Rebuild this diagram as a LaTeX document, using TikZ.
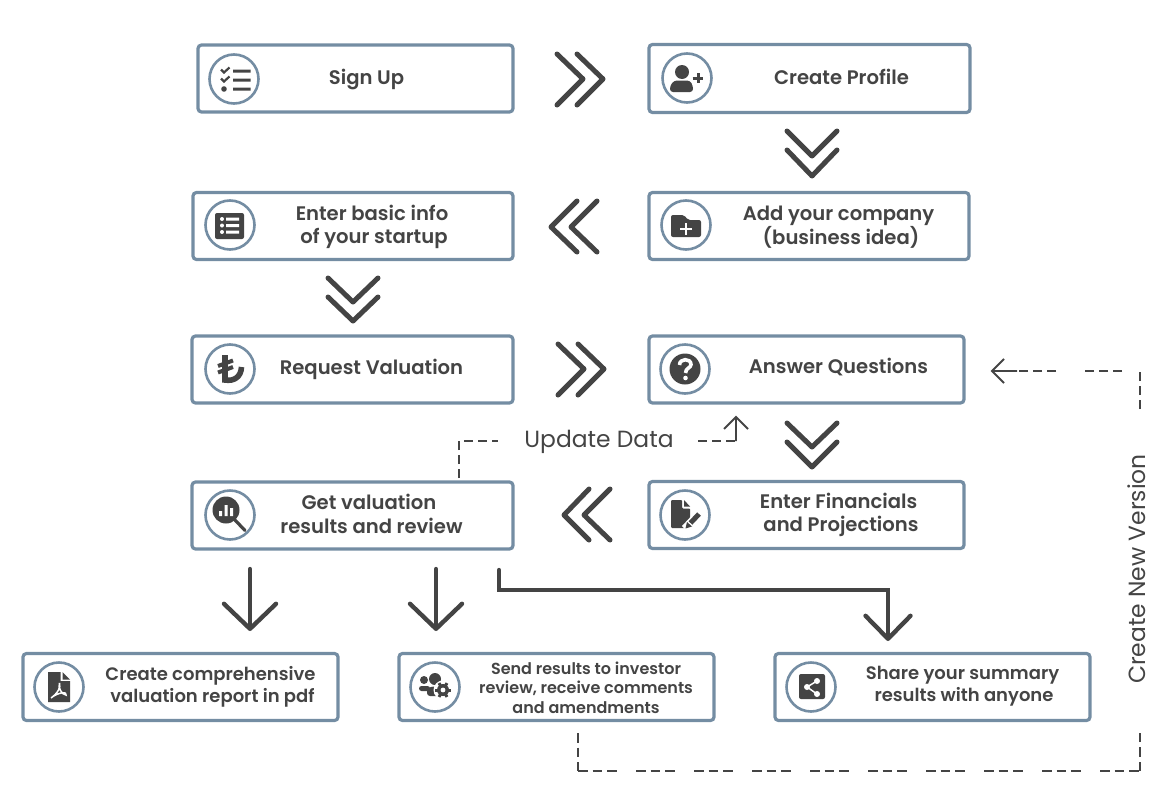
\documentclass[tikz,border=0pt]{standalone}
\usepackage{fontspec}
\setmainfont{Poppins}[UprightFont=* SemiBold]
\newfontfamily\regfont{Poppins}
\usetikzlibrary{arrows.meta}
\definecolor{boxline}{HTML}{748DA3}
\definecolor{ink}{HTML}{444444}
\tikzset{
  x=1pt,y=-1pt,
  stepbox/.style={draw=boxline,line width=3.2pt,rounded corners=3.5pt,fill=white,inner sep=0pt},
  ring/.style={draw=boxline,line width=2.6pt,fill=white,circle,minimum size=49pt,inner sep=0pt},
  label/.style={text=ink,align=center,inner sep=0pt,font=\fontsize{19.6}{23.5}\selectfont},
  lowlabel/.style={text=ink,align=center,inner sep=0pt,font=\fontsize{18}{22}\selectfont},
  smalllabel/.style={text=ink,align=center,inner sep=0pt,font=\fontsize{16}{19.5}\selectfont},
  thinlabel/.style={text=ink,inner sep=0pt,font=\regfont\fontsize{23.4}{28}\selectfont},
  chevron/.style={draw=ink,line width=5pt,line cap=round,line join=round},
  bigarrow/.style={draw=ink,line width=4.4pt,line cap=round,line join=miter,-{Straight Barb[length=25pt,width=52pt,round]}},
  bigarrowb/.style={draw=ink,line width=4.4pt,line cap=round,line join=miter,-{Straight Barb[length=23pt,width=45pt,round]}},
  dashline/.style={draw=ink,line width=1.8pt,dash pattern=on 9pt off 5pt},
  dashgroup/.style={draw=ink,line width=1.8pt,dash pattern=on 9.5pt off 5pt on 9.5pt off 5pt on 9.5pt off 19.5pt},
  thinhead/.style={draw=ink,line width=1.8pt,line join=miter},
}
\begin{document}
\begin{tikzpicture}
\useasboundingbox (0,0) rectangle (1166,811);
% boxes
\node[stepbox,minimum width=315pt,minimum height=67pt] (signup) at (355.5,78.5) {};
\node[stepbox,minimum width=321pt,minimum height=68pt] (profile) at (809.5,78.5) {};
\node[stepbox,minimum width=320pt,minimum height=67pt] (basic) at (353,226) {};
\node[stepbox,minimum width=320pt,minimum height=67pt] (company) at (809,226) {};
\node[stepbox,minimum width=321pt,minimum height=67pt] (request) at (352.5,369.5) {};
\node[stepbox,minimum width=315pt,minimum height=67pt] (answer) at (806.5,369.5) {};
\node[stepbox,minimum width=321pt,minimum height=67pt] (results) at (352.5,515.5) {};
\node[stepbox,minimum width=315pt,minimum height=67pt] (financials) at (806.5,515) {};
\node[stepbox,minimum width=315pt,minimum height=67pt] (pdf) at (180.5,687) {};
\node[stepbox,minimum width=315pt,minimum height=67pt] (send) at (556.5,687) {};
\node[stepbox,minimum width=315pt,minimum height=67pt] (share) at (932.5,687) {};
% rings
\node[ring] (r1) at (234,79) {};
\node[ring] (r2) at (687,78) {};
\node[ring] (r3) at (230,225) {};
\node[ring] (r4) at (686,225) {};
\node[ring] (r5) at (230,369) {};
\node[ring] (r6) at (685,369) {};
\node[ring] (r7) at (230,515) {};
\node[ring] (r8) at (685,515) {};
\node[ring] (r9) at (59,687) {};
\node[ring] (r10) at (435,687) {};
\node[ring] (r11) at (811,687) {};
% labels
\node[label] (t1) at (366.5,79) {Sign Up};
\node[label] (t2) at (841.5,77) {Create Profile};
\node[label] (t3) at (372,227) {Enter basic info\\\kern4pt of your startup};
\node[label] (t4) at (838.5,227) {Add your company\\\kern5pt(business idea)};
\node[label] (t5) at (371.5,369) {Request Valuation};
\node[label] (t6) at (838.5,367.5) {Answer Questions};
\node[label] (t7) at (371.5,514) {Get valuation\kern5pt\\results and review};
\node[label] (t8) at (841,515) {Enter Financials\kern5pt\\and Projections};
\node[lowlabel] (t9) at (210.5,686.5) {Create comprehensive\\\kern4pt valuation report in pdf};
\node[smalllabel] (t10) at (586,687.5) {Send results to investor\\review, receive comments\\and amendments};
\node[lowlabel] (t11) at (962.5,686.5) {Share your summary\\\kern3pt results with anyone};
\node[thinlabel] (t12) at (599,442) {Update Data};
\node[thinlabel,rotate=90] (t13) at (1137,569) {Create New Version};
% chevrons
\draw[chevron] (557,54)--(583,79)--(557,105) (577,54)--(603,79)--(577,105);
\draw[chevron] (787,131)--(812,156)--(837,131) (787,150)--(812,176)--(837,150);
\draw[chevron] (577,201)--(551,227)--(577,252) (597,201)--(571,227)--(597,252);
\draw[chevron] (328,278)--(353,302)--(378,278) (328,297)--(353,321)--(378,297);
\draw[chevron] (558,344)--(584,369)--(558,395) (578,344)--(604,369)--(578,395);
\draw[chevron] (787,423)--(812,447)--(837,423) (787,442)--(812,467)--(837,442);
\draw[chevron] (589,489)--(564,515)--(589,540) (610,489)--(584,515)--(610,540);
% big arrows
\coordinate (a1s) at (250,569);\coordinate (a1e) at (250,631);
\coordinate (a2s) at (436,569);\coordinate (a2e) at (436,631);
\coordinate (a3s) at (499,570);\coordinate (a3c) at (888,590);\coordinate (a3e) at (888,641);
\draw[bigarrow] (a1s)--(a1e);
\draw[bigarrow] (a2s)--(a2e);
\draw[bigarrowb] (a3s)|-(a3c)--(a3e);
% update data
\coordinate (u1) at (459,478);\coordinate (u2) at (459,441);\coordinate (u3) at (498,441);
\draw[dashline] (u1)--(u2)--(u3);
\coordinate (u4) at (698,441);\coordinate (u5) at (736,441);\coordinate (u6) at (736,417);
\draw[dashline] (u4)--(u5);
\draw[thinhead] (u5)--(u6) (724,429)--(u6)--(748,429);
% new version
\coordinate (n1) at (1140,409);\coordinate (n2) at (1140,371);\coordinate (n3) at (1122,371);\coordinate (n4) at (1083,371);
\coordinate (n5) at (1056,371);\coordinate (n6) at (1017,371);\coordinate (n7) at (992,371);
\draw[dashline] (n1)--(n2);
\draw[dashline] (n3)--(n4);
\draw[dashline] (n5)--(n6);
\draw[thinhead] (n6)--(n7) (1004,359)--(n7)--(1004,383);
\coordinate (b1) at (578,733);\coordinate (b2) at (578,771);\coordinate (b3) at (1140,771);\coordinate (b4) at (1140,733);
\draw[dashgroup] (b1)--(b2);
\draw[dashgroup] (b2)--(b3);
\draw[dashgroup] (b3)--(b4);
% icon 1 list
\fill[ink] (233,69.5) rectangle (250.5,72.5) (233,78.5) rectangle (250.5,81.5) (233,87.5) rectangle (250.5,90.5);
\draw[ink,line width=2.2pt] (221,69.5)--(224,72.5)--(229.5,67.5) (221,78.5)--(224,81.5)--(229.5,76.5);
\fill[ink] (224,89) circle (2.8);
% icon 2 user plus
\fill[ink] (682,72) circle (7);
\fill[ink,rounded corners=3pt] (670,92)--(670,86)--(674,80.5)--(690,80.5)--(693,86)--(693,92)--cycle;
\draw[ink,line width=3pt] (692.5,78)--(703,78) (698,73)--(698,83);
% icon 3 form
\fill[ink,rounded corners=2pt] (215,213) rectangle (244,239);
\fill[white] (222,219) circle (2) (222,225.5) circle (2) (222,232) circle (2);
\fill[white] (226,217.5) rectangle (239,220.5) (226,224) rectangle (239,227) (226,230.5) rectangle (239,233.5);
% icon 4 folder
\fill[ink,rounded corners=2pt] (671,215)--(684,215)--(688,220)--(701,220)--(701,237)--(671,237)--cycle;
\draw[white,line width=2.8pt] (680,229)--(692,229) (686,223)--(686,235);
% icon 5 lira
\draw[ink,line width=5.6pt,line cap=butt] (225,355)--(225,380) .. controls (234,381.5) and (241,377) .. (241.5,367);
\draw[ink,line width=4pt] (218,366)--(233,360.5) (218,372.5)--(233,367);
% icon 6 question
\fill[ink] (685,369) circle (15.5);
\draw[white,line width=3.6pt] (679.5,365) .. controls (679.5,358) and (691,358) .. (691,364.5) .. controls (691,368) and (685.5,368) .. (685.5,373);
\fill[white] (685.5,378) circle (2.3);
% icon 7 magnifier
\fill[ink] (226,510) circle (13.5);
\draw[ink,line width=3.2pt,line cap=round] (235,520)--(245,530.5);
\fill[white] (219,511) rectangle (222,516) (224.5,505) rectangle (227.5,516) (230,508) rectangle (233,516);
% icon 8 doc pen
\fill[ink,rounded corners=1pt] (671,500)--(682,500)--(682,508.5)--(690,508.5)--(690,528)--(671,528)--cycle;
\fill[ink] (684,500)--(690,506.5)--(684,506.5)--cycle;
\draw[white,line width=8.5pt] (685,529)--(700,513);
\draw[ink,line width=5pt] (690.5,523)--(699,514);
\fill[ink] (685.5,528.5)--(687,522)--(692,526.5)--cycle;
% icon 9 pdf
\fill[ink] (48,672)--(60.5,672)--(60.5,681)--(70,681)--(70,702)--(48,702)--cycle;
\fill[ink] (62.5,672)--(70,679.5)--(62.5,679.5)--cycle;
\draw[white,line width=1.5pt] (51,698) .. controls (58,693) and (61,687) .. (59.5,683) .. controls (57.5,687) and (62,695) .. (66,695) .. controls (68,691.5) and (58,692) .. (51,698);
% icon 10 people gear
\fill[ink] (435,679) circle (6) (424,680) circle (4);
\fill[ink,rounded corners=2.5pt] (419,691)--(419,686)--(430,686)--(430,691)--cycle;
\fill[ink,rounded corners=3pt] (427,696)--(427,689)--(431,686.5)--(441,686.5)--(445,696)--cycle;
\fill[white] (443,690) circle (9.5);
\foreach \a in {0,60,...,300}{\draw[ink,line width=3pt] (443,690)--++(\a:8);}
\fill[ink] (443,690) circle (6);
\fill[white] (443,690) circle (2.4);
% icon 11 share
\fill[ink,rounded corners=2pt] (799,674) rectangle (825,699);
\draw[white,line width=1.5pt] (817,681)--(807,687)--(817,694);
\fill[white] (817,681) circle (3) (807,687) circle (3) (817,694) circle (3);
\end{tikzpicture}
\end{document}
